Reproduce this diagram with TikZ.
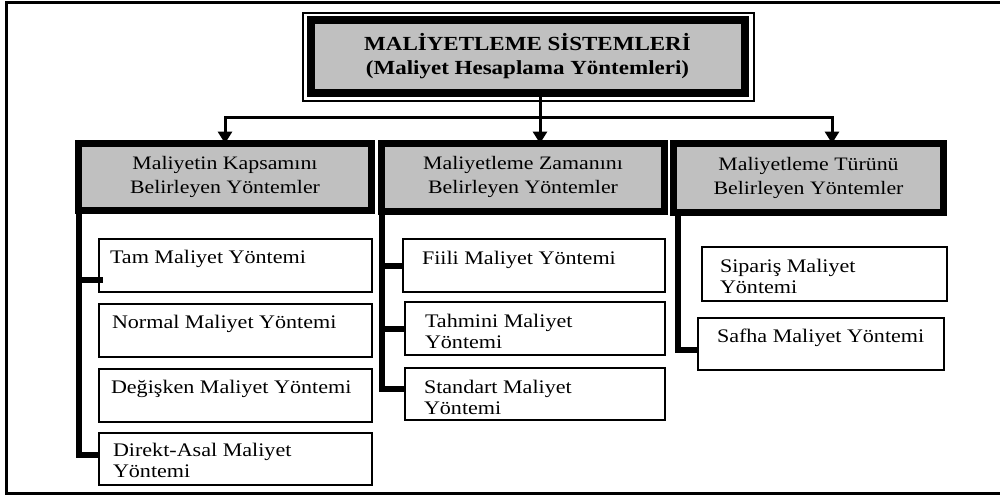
\documentclass[tikz,border=0pt]{standalone}
\usepackage{fontspec}
\setmainfont{Liberation Serif}[FakeStretch=1.15]
\usetikzlibrary{arrows.meta,calc}
\definecolor{hdrgray}{RGB}{192,192,192}
\newcommand{\tl}[1]{\begin{tabular}[t]{@{}l@{}}#1\end{tabular}}
% box from corner (x1,y1) to (x2,y2) in pixel units
\newcommand{\bx}[6]{\node[#1, minimum width={(#4-#2)*0.5pt}, minimum height={(#5-#3)*0.5pt}] (#6) at ({(#2+#4)/2},{(#3+#5)/2})}
\begin{document}
\begin{tikzpicture}[x=0.5pt,y=-0.5pt,
  every node/.style={inner sep=0pt, outer sep=0pt},
  hdr/.style={draw, line width=3.5pt, fill=hdrgray, align=center, font=\fontsize{9.5}{12}\selectfont},
  topbox/.style={draw, line width=4pt, fill=hdrgray, align=center, font=\fontsize{10}{12}\selectfont\bfseries},
  sub/.style={draw, line width=0.8pt},
  subtxt/.style={anchor=base west, font=\fontsize{9.6}{10.5}\selectfont},
  spine/.style={line width=3pt},
  arr/.style={line width=1.5pt, -{Triangle[width=7pt,length=6pt]}},
  frame/.style={line width=1.5pt},
  thinframe/.style={line width=0.8pt}]
\useasboundingbox (0,0) rectangle (1000,495);
\draw[frame] (1002,2) -- (6,2) -- (6,493.5) -- (1002,493.5);

% top box
\draw[thinframe] (303,13) rectangle (754,101);
\bx{topbox}{310.5}{20}{744.5}{92.5}{top} {MALİYETLEME SİSTEMLERİ\\(Maliyet Hesaplama Yöntemleri)};

% headers
\bx{hdr}{78.5}{143.5}{371.5}{210}{H1} {Maliyetin Kapsamını\\Belirleyen Yöntemler};
\bx{hdr}{381.5}{143.5}{664.5}{211}{H2} {Maliyetleme Zamanını\\Belirleyen Yöntemler};
\bx{hdr}{673.5}{143.5}{943.5}{212}{H3} {Maliyetleme Türünü\\Belirleyen Yöntemler};

% sub boxes
\bx{sub}{99}{239}{372}{292}{d1} {};
\bx{sub}{99}{304}{372}{357}{d2} {};
\bx{sub}{99}{369}{372}{422}{d3} {};
\bx{sub}{99}{433}{372}{485}{d4} {};
\bx{sub}{403}{239}{665}{292}{f1} {};
\bx{sub}{405}{302}{665}{355}{f2} {};
\bx{sub}{405}{368}{665}{420}{f3} {};
\bx{sub}{702}{247}{947}{301}{t1} {};
\bx{sub}{698}{318}{944}{370}{t2} {};

\node[subtxt] (d1t) at ($(d1.north west)+(11,24)$) {Tam Maliyet Yöntemi};
\node[subtxt] (d2t) at ($(d2.north west)+(13,24)$) {Normal Maliyet Yöntemi};
\node[subtxt] (d3t) at ($(d3.north west)+(12,24)$) {Değişken Maliyet Yöntemi};
\node[subtxt] (d4t) at ($(d4.north west)+(14,23)$) {\tl{Direkt-Asal Maliyet\\Yöntemi}};
\node[subtxt] (f1t) at ($(f1.north west)+(19,25)$) {Fiili Maliyet Yöntemi};
\node[subtxt] (f2t) at ($(f2.north west)+(20,25)$) {\tl{Tahmini Maliyet\\Yöntemi}};
\node[subtxt] (f3t) at ($(f3.north west)+(19,25)$) {\tl{Standart Maliyet\\Yöntemi}};
\node[subtxt] (t1t) at ($(t1.north west)+(18,25)$) {\tl{Sipariş Maliyet\\Yöntemi}};
\node[subtxt] (t2t) at ($(t2.north west)+(19,24)$) {Safha Maliyet Yöntemi};

% arrows from top
\coordinate (jM) at (540,117);
\coordinate (jL) at (225,117);
\coordinate (jR) at (832,117);
\draw[arr] (top.south -| jM) -- (H2.north -| jM);
\draw[arr] (jM) -| (H1.north);
\draw[arr] (jM) -| (H3.north -| jR);

% spines
\coordinate (b1) at ($(d1.south west)+(4,-12)$);
\draw[spine] (H1.south west) |- ($(d4.west)+(0,-4)$);
\draw[spine] (b1 -| H1.south west) -- (b1);
\draw[spine] ($(d2.west)+(0,-4)$) -- ($(d2.west)+(0,-4)$ -| H1.south west);
\draw[spine] ($(d3.west)+(0,-3)$) -- ($(d3.west)+(0,-3)$ -| H1.south west);

\draw[spine] (H2.south west) |- ($(f3.west)+(0,-5)$);
\draw[spine] (f1.west) -- (f1.west -| H2.south west);
\draw[spine] (f2.west) -- (f2.west -| H2.south west);

\coordinate (s3) at ($(H3.south west)+(4.5,0)$);
\draw[spine] (s3) |- ($(t2.west)+(0,6)$);
\draw[spine] ($(t1.west)+(0,-4)$) -- ($(t1.west)+(0,-4)$ -| s3);
\end{tikzpicture}
\end{document}
